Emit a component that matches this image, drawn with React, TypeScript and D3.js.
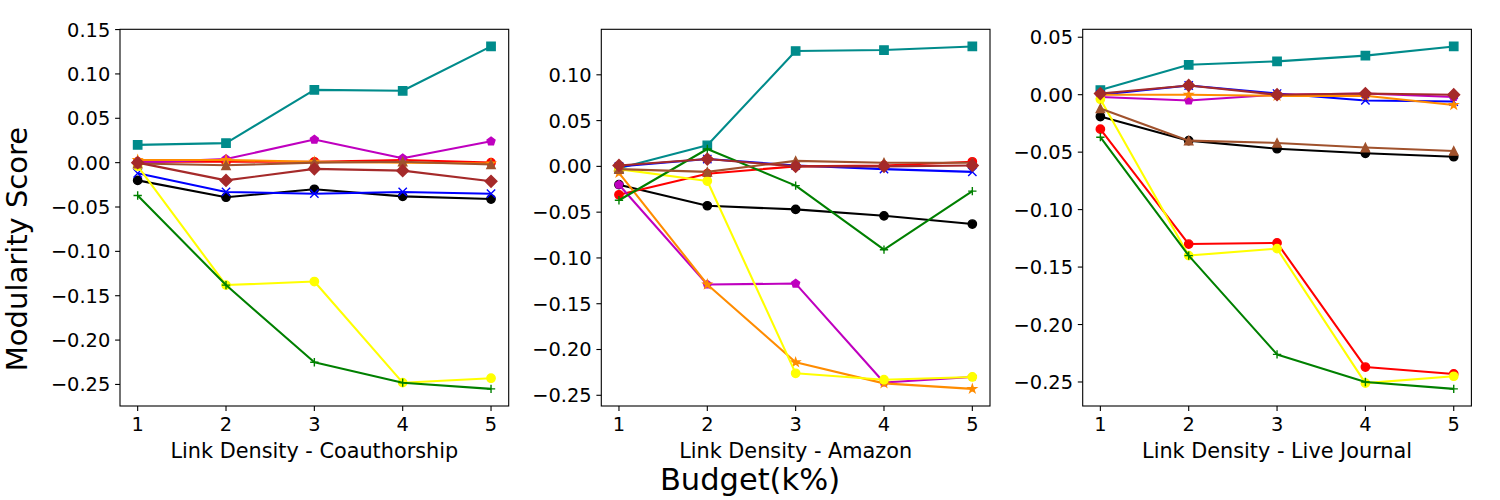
import React from 'react';
import * as d3 from 'd3';

// budget steps on the x axis
const budget = [1, 2, 3, 4, 5];

const panelLabels = ['Link Density - Coauthorship', 'Link Density - Amazon', 'Link Density - Live Journal'];

// y ticks for each panel
const yTicks = [
  [0.15, 0.1, 0.05, 0.0, -0.05, -0.1, -0.15, -0.2, -0.25],
  [0.1, 0.05, 0.0, -0.05, -0.1, -0.15, -0.2, -0.25],
  [0.05, 0.0, -0.05, -0.1, -0.15, -0.2, -0.25],
];

// one row per panel: coauthorship, amazon, live journal
const tealSquare = [
  [0.02, 0.022, 0.082, 0.081, 0.131],
  [-0.002, 0.023, 0.126, 0.127, 0.131],
  [0.004, 0.026, 0.029, 0.034, 0.042],
];
const blackCircle = [
  [-0.02, -0.039, -0.03, -0.038, -0.041],
  [-0.02, -0.043, -0.047, -0.054, -0.063],
  [-0.019, -0.04, -0.047, -0.051, -0.054],
];
const blueX = [
  [-0.012, -0.033, -0.035, -0.033, -0.035],
  [0.0, 0.008, 0.001, -0.003, -0.006],
  [0.0, 0.008, 0.001, -0.005, -0.006],
];
const redCircle = [
  [0.001, 0.001, 0.001, 0.003, 0.0],
  [-0.031, -0.008, 0.0, 0.001, 0.005],
  [-0.03, -0.13, -0.129, -0.237, -0.243],
];
const magentaPentagon = [
  [0.0, 0.004, 0.026, 0.005, 0.024],
  [-0.02, -0.129, -0.128, -0.236, -0.23],
  [-0.002, -0.005, 0.0, 0.001, -0.002],
];
const orangeStar = [
  [0.003, 0.003, 0.001, 0.0, -0.001],
  [-0.007, -0.129, -0.214, -0.237, -0.243],
  [0.0, 0.0, -0.001, -0.001, -0.009],
];
const yellowCircle = [
  [-0.004, -0.138, -0.134, -0.248, -0.243],
  [-0.003, -0.016, -0.226, -0.233, -0.23],
  [-0.004, -0.14, -0.134, -0.251, -0.245],
];
const greenPlus = [
  [-0.037, -0.138, -0.225, -0.248, -0.255],
  [-0.037, 0.019, -0.021, -0.091, -0.027],
  [-0.037, -0.14, -0.226, -0.25, -0.256],
];
const siennaTriangle = [
  [-0.001, -0.003, 0.0, 0.001, -0.002],
  [-0.003, -0.006, 0.006, 0.004, 0.004],
  [-0.012, -0.04, -0.042, -0.046, -0.049],
];
const brownDiamond = [
  [0.0, -0.02, -0.007, -0.009, -0.021],
  [0.001, 0.008, 0.0, 0.0, 0.001],
  [0.001, 0.008, 0.0, 0.001, 0.0],
];

const series = [
  { values: tealSquare, color: '#008b8b', marker: 'square' },
  { values: blackCircle, color: '#000000', marker: 'circle' },
  { values: blueX, color: '#0000ff', marker: 'x' },
  { values: redCircle, color: '#ff0000', marker: 'circle' },
  { values: magentaPentagon, color: '#bf00bf', marker: 'pentagon' },
  { values: orangeStar, color: '#ff8c00', marker: 'star' },
  { values: yellowCircle, color: '#ffff00', marker: 'circle' },
  { values: greenPlus, color: '#008000', marker: 'plus' },
  { values: siennaTriangle, color: '#a0522d', marker: 'triangle' },
  { values: brownDiamond, color: '#a52a2a', marker: 'diamond' },
];

const W = 1500;
const H = 500;
const panelLefts = [120, 601.3, 1082.7];
const panelW = 388.7;
const top = 29.3;
const bottom = 406;
const font = 'DejaVu Sans, sans-serif';
const ms = 8.33; // marker size in px
const fmt = d3.format('.2f');

const polygon = (n: number, r: number, inner?: number) => {
  const pts: [number, number][] = [];
  const count = inner ? n * 2 : n;
  for (let i = 0; i < count; i++) {
    const a = -Math.PI / 2 + (i * Math.PI * 2) / count;
    const rr = inner && i % 2 === 1 ? inner : r;
    pts.push([rr * Math.cos(a), rr * Math.sin(a)]);
  }
  return 'M' + pts.map(p => p.join(',')).join('L') + 'Z';
};

const markerPath = (kind: string) => {
  const h = ms / 2;
  switch (kind) {
    case 'square':
      return `M${-h},${-h}H${h}V${h}H${-h}Z`;
    case 'circle':
      return d3.symbol(d3.symbolCircle, Math.PI * h * h)() as string;
    case 'diamond': {
      const d = ms / Math.SQRT2;
      return `M0,${-d}L${d},0L0,${d}L${-d},0Z`;
    }
    case 'triangle':
      return `M0,${-h}L${h},${h}L${-h},${h}Z`;
    case 'star':
      return polygon(5, h, h * 0.381966);
    case 'pentagon':
      return polygon(5, h);
    case 'x':
      return `M${-h},${-h}L${h},${h}M${-h},${h}L${h},${-h}`;
    case 'plus':
      return `M${-h},0H${h}M0,${-h}V${h}`;
    default:
      return '';
  }
};

const Panel = ({ idx }: { idx: number }) => {
  const left = panelLefts[idx];
  const x = d3.scaleLinear().domain([0.8, 5.2]).range([left, left + panelW]);
  const all = series.flatMap(s => s.values[idx]);
  const [lo, hi] = d3.extent(all) as [number, number];
  const pad = (hi - lo) * 0.05;
  const y = d3.scaleLinear().domain([lo - pad, hi + pad]).range([bottom, top]);
  const line = d3.line<number>().x((_, i) => x(budget[i])).y(d => y(d));

  return (
    <g>
      {series.map((s, si) => {
        const vals = s.values[idx];
        const open = s.marker === 'x' || s.marker === 'plus';
        const path = markerPath(s.marker);
        return (
          <g key={si}>
            <path d={line(vals) || ''} fill="none" stroke={s.color} strokeWidth={2.08} strokeLinejoin="round" />
            {vals.map((v, i) => (
              <path
                key={i}
                d={path}
                transform={`translate(${x(budget[i])},${y(v)})`}
                fill={open ? 'none' : s.color}
                stroke={s.color}
                strokeWidth={1.39}
              />
            ))}
          </g>
        );
      })}
      <rect x={left} y={top} width={panelW} height={bottom - top} fill="none" stroke="#000" strokeWidth={1.1} />
      {yTicks[idx].map(t => (
        <g key={t}>
          <line x1={left - 4.9} x2={left} y1={y(t)} y2={y(t)} stroke="#000" strokeWidth={1.1} />
          <text x={left - 9.7} y={y(t)} dy="0.36em" textAnchor="end" fontSize={19.4} fontFamily={font}>
            {fmt(t)}
          </text>
        </g>
      ))}
      {budget.map(b => (
        <g key={b}>
          <line x1={x(b)} x2={x(b)} y1={bottom} y2={bottom + 4.9} stroke="#000" strokeWidth={1.1} />
          <text x={x(b)} y={431} textAnchor="middle" fontSize={19.4} fontFamily={font}>
            {b}
          </text>
        </g>
      ))}
      <text x={left + panelW / 2} y={457.5} textAnchor="middle" fontSize={20.8} fontFamily={font}>
        {panelLabels[idx]}
      </text>
    </g>
  );
};

export default function App() {
  return (
    <svg width={W} height={H} style={{ position: 'absolute', left: 0, top: 0, background: '#fff' }}>
      <rect width={W} height={H} fill="#fff" />
      {panelLabels.map((_, i) => (
        <Panel key={i} idx={i} />
      ))}
      <text
        transform="translate(27,249) rotate(-90)"
        textAnchor="middle"
        fontSize={29}
        fontFamily={font}
      >
        Modularity Score
      </text>
      <text x={750} y={490} textAnchor="middle" fontSize={30.5} fontFamily={font}>
        Budget(k%)
      </text>
    </svg>
  );
}
